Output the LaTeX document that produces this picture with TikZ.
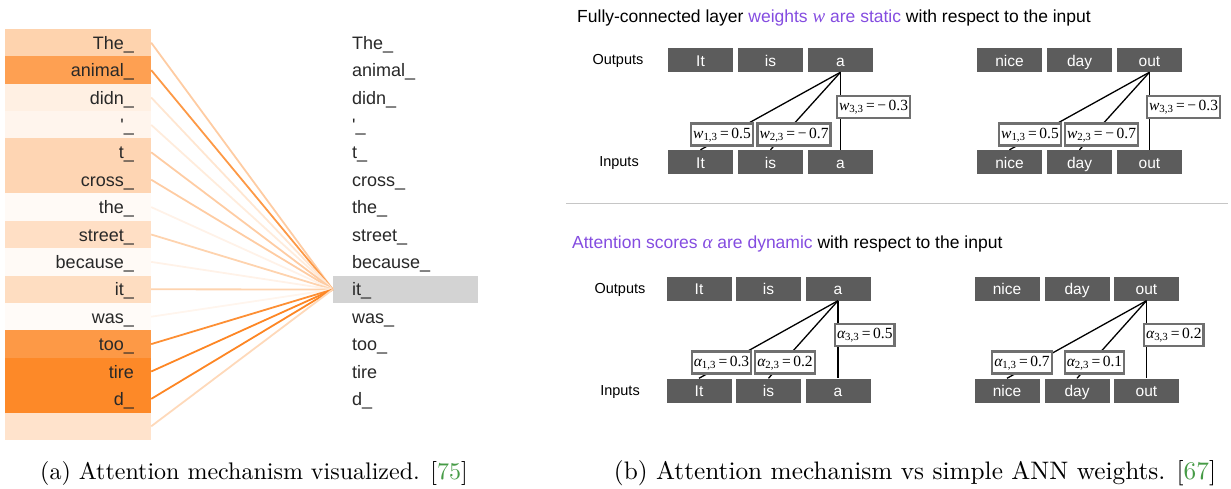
\documentclass[tikz,border=0pt]{standalone}
\usepackage{fontspec}
\newfontfamily\hv{Liberation Sans}
\newfontfamily\tms{Liberation Serif}
\newfontfamily\lmr{lmroman10-regular}[Extension=.otf]
\definecolor{ob}{RGB}{253,128,24}
\definecolor{purp}{RGB}{132,76,224}
\definecolor{boxg}{RGB}{92,92,92}
\definecolor{lblb}{RGB}{112,112,112}
\definecolor{txt}{RGB}{40,40,40}
\definecolor{citeg}{RGB}{70,155,70}
\definecolor{hlg}{RGB}{211,211,211}
\newcommand\wl[3]{{\itshape #1}\textsubscript{#2}\,=\,#3}
\tikzset{
  lrow/.style={rectangle, minimum width=146pt, minimum height=27.6pt, inner sep=0pt},
  ltxt/.style={anchor=base east, inner sep=0pt, text=txt, font=\hv\fontsize{18}{20}\selectfont},
  rtxt/.style={anchor=base west, inner sep=0pt, text=txt, font=\hv\fontsize{18}{20}\selectfont},
  att/.style={line width=1.8pt},
  tok/.style={rectangle, fill=boxg, minimum width=65pt, minimum height=24pt, inner sep=0pt, text height=12.5pt, text depth=0pt, text=white, font=\hv\fontsize{15.5}{17}\selectfont},
  lab/.style={rectangle, fill=white, draw=lblb, line width=2.2pt, inner xsep=2pt, inner ysep=0pt, text height=12.5pt, text depth=5pt, minimum height=22pt, font=\tms\fontsize{15.5}{17}\selectfont},
  io/.style={anchor=base, inner sep=0pt, font=\hv\fontsize{14.5}{16}\selectfont},
  conn/.style={line width=1.3pt, black},
  ttl/.style={anchor=base west, inner sep=0pt, font=\hv\fontsize{17.5}{20}\selectfont},
  captxt/.style={anchor=base, inner sep=0pt, font=\lmr\fontsize{24}{28}\selectfont}
}
\begin{document}
\begin{tikzpicture}[x=1pt,y=-1pt]
\useasboundingbox (0,0) rectangle (1231,489);
% ---------- left panel ----------
\node[lrow, fill=hlg, minimum width=145pt, minimum height=27pt] (hl) at (405.5,289.5) {};
\foreach \i/\w/\f/\l in {1/The\_/35/40, 2/animal\_/75/80, 3/didn\_/12/20, 4/{\textquotesingle\_}/8/15, 5/t\_/33/40, 6/cross\_/33/40, 7/the\_/4/10, 8/street\_/25/35, 9/because\_/4/10, 10/it\_/27/35, 11/was\_/3/8, 12/too\_/80/88, 13/tire/93/95, 14/d\_/93/95, 15/{}/22/30}{
  \node[lrow, fill=ob!\f!white] (l\i) at (78,{29+27.4*(\i-0.5)}) {};
  \node[ltxt] (lt\i) at (134,{29+27.4*(\i-0.5)+6.6}) {\w};
  \draw[att, draw=ob!\l!white] (l\i.east) -- (hl.west);
}
\foreach \i/\w in {1/The\_, 2/animal\_, 3/didn\_, 4/{\textquotesingle\_}, 5/t\_, 6/cross\_, 7/the\_, 8/street\_, 9/because\_, 10/it\_, 11/was\_, 12/too\_, 13/tire, 14/d\_}{
  \node[rtxt] (r\i) at (352,{29+27.4*(\i-0.5)+6.6}) {\w};
}
% ---------- right panel: titles ----------
\node[ttl] (t1) at (577,23) {Fully-connected layer \textcolor{purp}{weights {\tms\itshape\fontsize{19}{20}\selectfont w} are static} with respect to the input};
\node[ttl] (t2) at (572,248) {\textcolor{purp}{Attention scores {\tms\itshape\fontsize{19}{20}\selectfont α} are dynamic} with respect to the input};
\coordinate (sepL) at (566,203);
\coordinate (sepR) at (1228,203);
\draw[gray!45, line width=0.9pt] (sepL) -- (sepR);
% ---------- Outputs / Inputs labels ----------
\node[io] (outA) at (618,65) {Outputs};
\node[io] (inA) at (619,167) {Inputs};
\node[io] (outB) at (620,293) {Outputs};
\node[io] (inB) at (620,395) {Inputs};
% ---------- top group 1 ----------
\node[tok] (ao1) at (700.5,60) {It};
\node[tok] (ao2) at (770.5,60) {is};
\node[tok] (ao3) at (840.5,60) {a};
\node[tok] (ai1) at (700.5,162) {It};
\node[tok] (ai2) at (770.5,162) {is};
\node[tok] (ai3) at (840.5,162) {a};
\draw[conn] (ao3.south) -- (ai1.north);
\draw[conn] (ao3.south) -- (ai2.north);
\draw[conn] (ao3.south) -- (ai3.north);
\node[lab] (aw1) at (722,134.5) {\wl{w}{1,3}{0.5}};
\node[lab] (aw2) at (794,134.5) {\wl{w}{2,3}{−\,0.7}};
\node[lab, anchor=west] (aw3) at (836,107) {\wl{w}{3,3}{−\,0.3}};
% ---------- top group 2 ----------
\node[tok] (bo1) at (1009.5,60) {nice};
\node[tok] (bo2) at (1079.5,60) {day};
\node[tok] (bo3) at (1149.5,60) {out};
\node[tok] (bi1) at (1009.5,162) {nice};
\node[tok] (bi2) at (1079.5,162) {day};
\node[tok] (bi3) at (1149.5,162) {out};
\draw[conn] (bo3.south) -- (bi1.north);
\draw[conn] (bo3.south) -- (bi2.north);
\draw[conn] (bo3.south) -- (bi3.north);
\node[lab] (bw1) at (1030,134.5) {\wl{w}{1,3}{0.5}};
\node[lab] (bw2) at (1101.5,134.5) {\wl{w}{2,3}{−\,0.7}};
\node[lab, anchor=west] (bw3) at (1146,107) {\wl{w}{3,3}{−\,0.3}};
% ---------- bottom group 1 ----------
\node[tok] (co1) at (699,288.5) {It};
\node[tok] (co2) at (768.5,288.5) {is};
\node[tok] (co3) at (838,288.5) {a};
\node[tok] (ci1) at (699,390.5) {It};
\node[tok] (ci2) at (768.5,390.5) {is};
\node[tok] (ci3) at (838,390.5) {a};
\draw[conn] (co3.south) -- (ci1.north);
\draw[conn] (co3.south) -- (ci2.north);
\draw[conn] (co3.south) -- (ci3.north);
\node[lab] (cw1) at (721.5,362.5) {\wl{α}{1,3}{0.3}};
\node[lab] (cw2) at (785,362.5) {\wl{α}{2,3}{0.2}};
\node[lab, anchor=west] (cw3) at (834,335) {\wl{α}{3,3}{0.5}};
% ---------- bottom group 2 ----------
\node[tok] (do1) at (1007,288.5) {nice};
\node[tok] (do2) at (1077,288.5) {day};
\node[tok] (do3) at (1146.5,288.5) {out};
\node[tok] (di1) at (1007,390.5) {nice};
\node[tok] (di2) at (1077,390.5) {day};
\node[tok] (di3) at (1146.5,390.5) {out};
\draw[conn] (do3.south) -- (di1.north);
\draw[conn] (do3.south) -- (di2.north);
\draw[conn] (do3.south) -- (di3.north);
\node[lab] (dw1) at (1022,362.5) {\wl{α}{1,3}{0.7}};
\node[lab] (dw2) at (1094.5,362.5) {\wl{α}{2,3}{0.1}};
\node[lab, anchor=west] (dw3) at (1143,335) {\wl{α}{3,3}{0.2}};
% ---------- captions ----------
\node[captxt] (capa) at (254,479) {(a) Attention mechanism visualized. [\textcolor{citeg}{75}]};
\node[captxt, font=\lmr\fontsize{25.3}{28}\selectfont] (capb) at (915,479) {(b) Attention mechanism vs simple ANN weights. [\textcolor{citeg}{67}]};
\end{tikzpicture}
\end{document}
